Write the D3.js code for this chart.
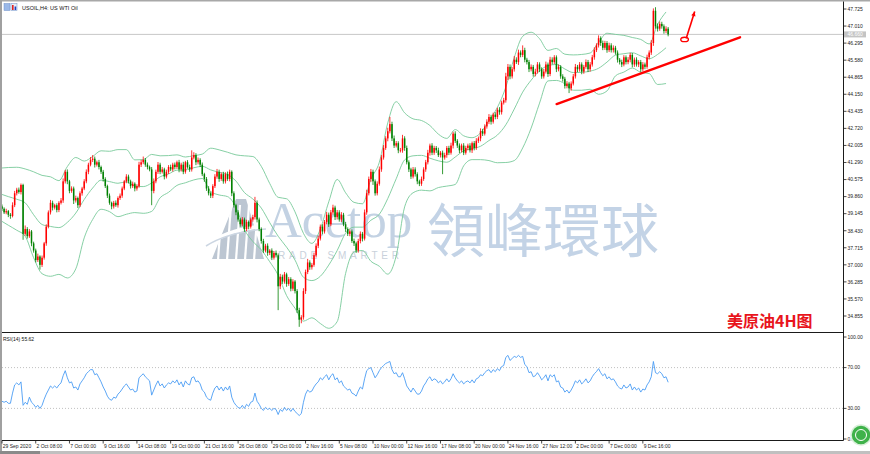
<!DOCTYPE html>
<html><head><meta charset="utf-8">
<script src="https://cdn.jsdelivr.net/npm/d3@7"></script>
<style>html,body{margin:0;padding:0;background:#fff;}svg{display:block;}</style>
</head><body>
<svg id="c" width="870" height="454"></svg>
<script>
// ---------------- DATA ----------------
const title = "USOIL,H4:  US WTI Oil";
const rsiTitle = "RSI(14) 55.62";
const chartLabel = "美原油4H图";
const firstOpen = 39.45;
const closes = [
39.35,39.2,39.25,39.1,39.05,39.5,40.0,40.15,40.05,40.35,
38.3,38.5,38.2,38.4,37.9,37.6,37.2,37.35,37.0,37.3,
37.9,38.6,39.2,39.6,39.4,39.5,39.3,39.6,39.7,40.5,
40.9,40.5,40.1,40.2,39.7,39.8,39.5,40.0,40.2,40.5,
40.9,41.2,41.4,41.45,41.2,41.3,41.1,40.9,40.6,40.3,
39.9,39.6,39.45,39.6,39.5,39.8,39.9,40.2,40.5,40.7,
40.5,40.3,40.4,40.2,40.3,41.2,41.3,41.4,41.2,41.1,
41.0,40.1,40.5,40.9,41.2,40.9,41.0,40.7,40.9,41.1,
41.0,41.2,41.1,41.3,41.0,41.2,40.9,41.3,41.1,41.0,
41.5,41.6,41.3,41.4,41.2,40.8,40.6,40.2,40.0,39.9,
40.3,40.7,40.9,40.6,40.8,40.5,40.8,40.6,40.9,40.0,
39.5,39.2,38.9,38.7,38.9,38.5,38.8,38.6,38.9,39.0,
39.6,38.9,38.5,38.0,37.6,37.8,37.5,37.6,37.3,37.5,
37.4,36.1,36.5,36.3,36.6,36.2,36.4,36.0,36.3,35.9,
35.1,34.7,34.8,35.9,36.7,37.1,36.9,37.0,37.4,37.8,
38.1,38.6,38.4,38.8,39.1,38.7,39.2,39.4,39.0,39.2,
38.9,39.1,38.7,38.5,38.3,38.4,38.0,37.9,37.6,38.0,
38.3,38.1,39.2,40.0,40.6,40.9,40.5,40.0,40.4,41.0,
41.5,41.9,42.3,42.6,42.9,42.3,42.0,42.1,41.8,41.8,
42.3,41.9,41.3,41.0,40.7,41.0,40.8,40.5,40.4,40.6,
41.0,41.3,41.7,42.0,41.7,41.9,41.8,41.6,41.7,41.5,
41.6,41.9,41.7,42.0,42.5,42.2,42.0,41.8,42.0,41.7,
41.9,42.0,41.8,42.1,41.9,42.2,42.3,42.6,42.5,42.8,
43.0,43.2,43.0,43.3,43.2,43.5,43.4,43.8,43.9,44.9,
45.3,44.9,45.2,45.6,45.5,45.9,45.8,46.0,45.6,45.5,
45.2,45.3,45.0,45.1,45.4,45.2,44.9,45.1,45.4,45.0,
45.6,45.5,45.7,45.2,45.3,44.9,44.8,44.5,44.6,44.4,
44.6,44.9,45.3,45.2,45.4,45.1,45.3,45.5,45.2,45.4,
45.7,46.0,46.2,46.5,46.3,46.1,46.3,46.0,46.2,46.0,
46.1,45.9,45.6,45.5,45.4,45.7,45.5,45.6,45.8,45.4,
45.6,45.4,45.5,45.2,45.4,45.3,45.7,45.9,46.3,47.65,
47.0,46.9,47.1,47.0,46.8,46.9,46.66];
// wick lengths in cents (above the body / below the body)
const upperWickCents = [
8,6,10,5,7,12,10,8,9,6, 5,15,8,10,6,7,8,12,5,9, 6,10,8,12,9,6,8,7,10,12,
8,10,6,9,8,10,6,8,7,9, 10,8,12,15,9,7,10,6,8,7, 6,9,5,8,10,7,9,8,6,10,
8,7,9,6,8,12,10,14,8,9, 6,10,12,9,11,8,10,7,9,8, 10,8,9,7,10,8,12,6,9,10,
30,12,8,10,7,9,6,8,10,7, 8,10,12,9,7,10,8,11,9,6, 8,6,9,7,10,8,9,6,8,10,
25,10,8,7,9,8,10,6,9,8, 10,8,12,9,10,7,9,8,10,6, 8,10,9,12,10,15,9,8,11,10,
12,9,10,8,12,9,10,12,8,10, 9,11,8,10,7,9,8,10,7,9, 10,8,12,15,10,12,9,8,10,12,
10,12,9,15,30,10,12,9,8,10, 15,9,10,8,7,10,9,8,7,10, 9,10,12,8,10,9,8,11,7,9,
10,8,9,12,8,10,7,9,8,10, 9,8,10,7,9,11,8,12,10,9, 10,12,9,8,10,9,11,8,10,15,
12,10,9,15,10,12,9,20,10,8, 9,10,8,12,10,9,8,11,12,8, 12,10,9,8,10,7,9,8,10,7,
9,10,12,8,10,9,8,11,9,10, 10,12,9,12,8,10,9,8,11,9, 10,8,9,7,10,9,8,11,9,8,
9,10,8,9,10,8,11,9,12,10, 15,12,10,9,8,10,7];
const lowerWickCents = [
9,7,8,10,12,6,8,9,7,10, 25,8,10,7,12,9,10,8,20,9, 8,10,7,9,12,8,10,9,7,10,
9,12,10,8,15,9,12,8,10,7, 8,10,7,9,12,8,10,9,11,8, 10,8,12,9,7,10,8,9,7,8,
9,10,8,12,9,7,10,8,9,10, 8,60,10,8,9,10,7,12,8,9, 7,9,10,8,12,9,10,8,7,10,
9,8,12,9,10,8,12,10,9,10, 10,8,9,12,8,10,9,8,10,12, 10,12,9,10,8,12,9,11,8,9,
10,12,9,11,10,8,12,9,10,8, 9,100,12,10,9,12,8,11,9,10, 12,30,15,10,12,9,11,10,8,9,
10,8,12,9,10,11,8,9,12,10, 9,10,8,12,9,10,8,11,10,9, 10,12,8,10,9,12,15,10,9,8,
10,9,8,12,9,11,10,8,12,9, 10,12,9,11,10,8,10,12,10,9, 8,10,9,12,10,9,11,8,10,70,
9,11,10,8,12,9,10,12,9,10, 8,10,9,11,10,8,9,12,10,8, 9,10,12,8,10,9,11,10,8,10,
15,12,9,10,8,12,10,9,11,10, 12,9,11,10,8,12,10,9,8,12, 9,10,8,12,9,10,12,11,10,20,
10,8,9,12,10,11,9,8,12,10, 9,10,8,9,12,10,9,11,8,10, 10,9,12,10,11,8,10,9,11,12,
10,9,11,12,9,10,8,9,10,12, 10,12,9,10,11,9,8];
const rsiValues = [
37,36,37,35,35,45,53,55,53,56, 33,36,34,41,36,34,31,33,30,33,
39,44,48,52,50,52,50,53,55,62, 67,60,55,56,50,51,48,54,57,60,
64,66,68,68,63,64,60,56,51,47, 42,39,38,41,40,44,46,49,52,54,
51,48,49,46,47,60,62,64,61,59, 57,43,48,53,57,52,54,50,53,55,
54,57,55,58,53,56,51,57,54,53, 60,61,56,57,54,48,46,41,39,38,
45,50,52,48,51,47,51,48,52,41, 36,33,31,30,33,30,34,32,36,37,
45,37,34,30,28,31,29,30,28,30, 29,24,29,27,31,28,30,27,30,27,
25,23,25,36,44,48,46,47,51,54, 56,60,58,61,63,58,62,64,58,60,
55,57,52,50,48,49,45,44,42,47, 51,49,59,67,69,70,65,60,63,67,
70,72,74,75,76,68,64,65,61,61, 65,59,52,49,46,50,47,44,44,47,
52,55,59,61,57,59,58,55,57,54, 56,59,56,59,64,60,57,55,57,54,
56,57,55,58,55,59,60,63,62,65, 67,68,65,68,66,69,67,71,72,80,
82,77,79,81,80,82,80,81,73,71, 65,66,61,62,65,62,58,60,63,57,
63,61,63,56,57,51,50,46,48,45, 48,52,57,55,58,54,56,59,55,57,
61,64,66,69,65,62,64,59,61,58, 59,56,52,50,49,53,50,51,54,48,
51,48,50,46,49,48,53,56,61,76, 65,64,66,64,60,61,55.6];
// Bollinger(20,2), first point at bar 0 then every 4 bars from bar 3
const bbUpper = [41.06,41.08,41.09,41.02,40.9,40.75,40.69,40.53,41.12,41.5,41.35,41.54,41.78,41.76,41.83,41.83,41.40,41.41,41.63,41.57,
41.58,41.61,41.52,41.58,41.64,41.89,41.82,41.72,41.61,41.57,41.54,41.13,40.41,39.83,39.77,39.22,38.32,37.9,38.5,39.64,
40.58,40.02,39.62,39.56,40.59,41.3,42.95,43.84,43.37,43.12,43.05,42.84,42.48,42.3,42.67,42.41,42.33,42.53,43.05,43.6,
44.45,45.69,46.58,46.75,46.48,45.99,46.07,45.83,45.8,45.82,45.88,46.33,46.71,46.66,46.62,46.53,46.45,46.26,47.08,47.6];
const bbMiddle = [39.95,39.86,39.75,39.6,39.1,38.69,38.61,38.56,38.78,39.17,39.74,40.22,40.55,40.49,40.42,40.48,40.30,40.28,40.43,40.69,
40.81,40.97,40.98,41.07,41.13,40.98,40.88,40.79,40.51,40.03,39.76,39.38,38.77,38.2,37.74,37.2,36.48,36.34,36.52,36.99,
37.6,38.33,38.58,38.58,38.87,39.12,39.78,40.61,41.4,41.57,41.59,41.47,41.36,41.3,41.52,41.78,41.87,41.97,42.21,42.44,
42.87,43.53,44.24,44.74,45.13,45.35,45.4,45.21,45.06,45.07,45.12,45.24,45.5,45.79,45.85,45.89,45.76,45.64,45.82,46.1];
const bbLower = [38.82,38.66,38.45,38.2,37.3,36.63,36.52,36.60,36.45,36.83,38.13,38.9,39.33,39.23,39.02,39.12,39.19,39.16,39.24,39.81,
40.04,40.33,40.44,40.56,40.62,40.07,39.93,39.86,39.41,38.48,37.98,37.63,37.13,36.57,35.71,35.18,34.64,34.78,34.54,34.34,
34.62,36.64,37.54,37.6,37.15,36.94,36.61,37.38,39.43,40.02,40.13,40.1,40.24,40.3,40.37,41.15,41.41,41.41,41.37,41.28,
41.29,41.37,41.9,42.73,43.78,44.71,44.73,44.59,44.32,44.32,44.36,44.15,44.29,44.92,45.08,45.25,45.07,45.02,44.56,44.6];
const priceTicks = [47.725,47.010,46.295,45.580,44.865,44.150,43.435,42.720,42.005,41.290,40.575,39.860,39.145,38.430,37.715,37.000,36.285,35.570,34.855];
const rsiTicks = [100,70,30,0];
const rsiLevels = [70,30];
const timeLabels = ["29 Sep 2020","2 Oct 08:00","7 Oct 00:00","9 Oct 16:00","14 Oct 08:00","19 Oct 00:00","21 Oct 16:00","26 Oct 08:00","29 Oct 00:00","2 Nov 16:00","5 Nov 08:00","10 Nov 00:00","12 Nov 16:00","17 Nov 08:00","20 Nov 00:00","24 Nov 16:00","27 Nov 12:00","2 Dec 00:00","7 Dec 00:00","9 Dec 16:00"];
const barsPerTimeLabel = 16;
// hand-drawn annotations (bar index, price)
const trendLine = [{bar:263.1, price:43.74},{bar:350.1, price:46.54}];
const arrowLine = [{bar:324.6, price:46.50},{bar:328.6, price:47.62}];
const arrowLoop = {bar:323.8, price:46.45};

// ---------------- SCALES ----------------
const svg = d3.select('#c');
const PL=2, PR=843, MT=2, MB=332, RB=440;
const x = d3.scaleLinear().domain([0,398]).range([2,841]);
const y = d3.scaleLinear().domain([34.855,47.725]).range([316,9]);
const yr = d3.scaleLinear().domain([0,100]).range([439,337]);

svg.append('rect').attr('width',870).attr('height',454).attr('fill','#fff');
const defs = svg.append('defs');
defs.append('clipPath').attr('id','mainClip').append('rect').attr('x',PL).attr('y',MT).attr('width',PR-PL).attr('height',MB-MT);
defs.append('clipPath').attr('id','rsiClip').append('rect').attr('x',PL).attr('y',MB+1).attr('width',PR-PL).attr('height',RB-MB-1);

// ---------------- WATERMARK ----------------
const wm = svg.append('g').attr('pointer-events','none');
wm.append('path').attr('d','M212,259 L236,199 L246,199 L264,259 Z').attr('fill','#bcc6d2');
[222,231,240,249,258].forEach(v=>wm.append('line').attr('x1',v).attr('x2',v-4).attr('y1',205).attr('y2',260).attr('stroke','#fff').attr('stroke-width',2.2));
wm.append('path').attr('d','M206,246 Q228,229 266,226').attr('fill','none').attr('stroke','#fff').attr('stroke-width',4);
wm.append('path').attr('d','M206,246 Q228,232 266,229').attr('fill','none').attr('stroke','#ccd6e2').attr('stroke-width',1.5);
wm.append('text').attr('x',265).attr('y',237).attr('font-family','"Liberation Serif","DejaVu Serif",serif').attr('font-size',51).attr('fill','#c3d2e3').text('Acetop');
wm.append('text').attr('x',268).attr('y',259).attr('font-family','"Liberation Sans",Arial,sans-serif').attr('font-size',10).attr('letter-spacing',3.8).attr('fill','#c9d1db').text('TRADE SMARTER');
wm.append('text').attr('x',427).attr('y',252).attr('font-family','"Noto Sans CJK TC","Noto Sans CJK SC",sans-serif').attr('font-size',58).attr('fill','#c3d3e6').text('領峰環球');

// ---------------- MAIN PANEL ----------------
const main = svg.append('g').attr('clip-path','url(#mainClip)');
const lastClose = closes[closes.length-1];
main.append('line').attr('x1',PL).attr('x2',PR).attr('y1',y(lastClose)).attr('y2',y(lastClose)).attr('stroke','#c8c8c8').attr('stroke-width',1);

const bandBar = k => k===0 ? 0 : 4*k-1;
const bandLine = d3.line().x((d,k)=>x(bandBar(k))).y(d=>y(d)).curve(d3.curveMonotoneX);
[bbUpper,bbMiddle,bbLower].forEach(arr=>{
  main.append('path').attr('d',bandLine(arr)).attr('fill','none').attr('stroke','#78c99a').attr('stroke-width',0.9);
});

const candles = closes.map((c,i)=>{
  const o = i===0 ? firstOpen : closes[i-1];
  return {i,o,c,h:Math.max(o,c)+upperWickCents[i]/100,l:Math.min(o,c)-lowerWickCents[i]/100};
});
const cg = main.append('g');
candles.forEach(d=>{
  const col = d.c>=d.o ? '#ff0000' : '#008000';
  const cx = x(d.i);
  cg.append('line').attr('x1',cx).attr('x2',cx).attr('y1',y(d.h)).attr('y2',y(d.l)).attr('stroke',col).attr('stroke-width',0.8);
  const top = y(Math.max(d.o,d.c)), bot = y(Math.min(d.o,d.c));
  cg.append('rect').attr('x',cx-0.75).attr('y',top).attr('width',1.5).attr('height',Math.max(0.8,bot-top)).attr('fill',col);
});

// annotations
main.append('line').attr('x1',x(trendLine[0].bar)).attr('y1',y(trendLine[0].price)).attr('x2',x(trendLine[1].bar)).attr('y2',y(trendLine[1].price)).attr('stroke','#ff0000').attr('stroke-width',2.4).attr('stroke-linecap','round');
main.append('ellipse').attr('cx',x(arrowLoop.bar)).attr('cy',y(arrowLoop.price)).attr('rx',3.8).attr('ry',2.2).attr('fill','none').attr('stroke','#ff0000').attr('stroke-width',1.4);
{
  const x1=x(arrowLine[0].bar), y1=y(arrowLine[0].price), x2=x(arrowLine[1].bar), y2=y(arrowLine[1].price);
  main.append('line').attr('x1',x1).attr('y1',y1).attr('x2',x2).attr('y2',y2).attr('stroke','#ff0000').attr('stroke-width',1.6);
  const ang = Math.atan2(y2-y1,x2-x1), L=5, s=0.45;
  const p1=[x2-L*Math.cos(ang-s), y2-L*Math.sin(ang-s)], p2=[x2-L*Math.cos(ang+s), y2-L*Math.sin(ang+s)];
  main.append('path').attr('d',`M${x2},${y2}L${p1[0]},${p1[1]}L${p2[0]},${p2[1]}Z`).attr('fill','#ff0000');
}

// ---------------- RSI PANEL ----------------
const rsiG = svg.append('g').attr('clip-path','url(#rsiClip)');
rsiLevels.forEach(v=>rsiG.append('line').attr('x1',PL).attr('x2',PR).attr('y1',yr(v)).attr('y2',yr(v)).attr('stroke','#b0b0b0').attr('stroke-width',0.8).attr('stroke-dasharray','1,2'));
rsiG.append('path').attr('d',d3.line().x((d,i)=>x(i)).y(d=>yr(d))(rsiValues)).attr('fill','none').attr('stroke','#4a9cf4').attr('stroke-width',0.9);

// ---------------- FRAME & AXES ----------------
const ink='#1a1a1a';
svg.append('rect').attr('x',0).attr('y',0).attr('width',870).attr('height',1.5).attr('fill','#a8a8a8');
svg.append('rect').attr('x',0).attr('y',0).attr('width',2).attr('height',454).attr('fill','#a0a0a0');
svg.append('line').attr('x1',PR+0.5).attr('x2',PR+0.5).attr('y1',1.5).attr('y2',RB+0.5).attr('stroke',ink).attr('stroke-width',1);
svg.append('line').attr('x1',PL).attr('x2',PR+0.5).attr('y1',MB+0.5).attr('y2',MB+0.5).attr('stroke',ink).attr('stroke-width',1);
svg.append('line').attr('x1',PL).attr('x2',PR+0.5).attr('y1',RB+0.5).attr('y2',RB+0.5).attr('stroke',ink).attr('stroke-width',1);

const fontSmall = '"Liberation Sans",Arial,sans-serif';
const axR = svg.append('g');
priceTicks.forEach(v=>{
  axR.append('line').attr('x1',PR+0.5).attr('x2',PR+3.5).attr('y1',y(v)).attr('y2',y(v)).attr('stroke',ink).attr('stroke-width',0.8);
  axR.append('text').attr('x',PR+4.5).attr('y',y(v)+1.8).attr('font-family',fontSmall).attr('font-size',5).attr('fill','#222').text(d3.format('.3f')(v));
});
rsiTicks.forEach(v=>{
  axR.append('line').attr('x1',PR+0.5).attr('x2',PR+3.5).attr('y1',yr(v)).attr('y2',yr(v)).attr('stroke',ink).attr('stroke-width',0.8);
  axR.append('text').attr('x',PR+4.5).attr('y',yr(v)+1.8).attr('font-family',fontSmall).attr('font-size',5).attr('fill','#222').text(d3.format('.2f')(v));
});
// current price box
axR.append('rect').attr('x',PR+1).attr('y',y(lastClose)-3).attr('width',22).attr('height',6).attr('fill','#c4c4c4');
axR.append('text').attr('x',PR+4.5).attr('y',y(lastClose)+1.8).attr('font-family',fontSmall).attr('font-size',5).attr('fill','#fff').text(d3.format('.3f')(lastClose));

const axB = svg.append('g');
timeLabels.forEach((t,k)=>{
  const bx = x(k*barsPerTimeLabel);
  axB.append('line').attr('x1',bx).attr('x2',bx).attr('y1',RB+0.5).attr('y2',RB+3.5).attr('stroke',ink).attr('stroke-width',0.8);
  axB.append('text').attr('x',bx+0.8).attr('y',RB+7.6).attr('font-family',fontSmall).attr('font-size',5).attr('fill','#222').text(t);
});

// bottom window strip
svg.append('rect').attr('x',0).attr('y',451).attr('width',870).attr('height',3).attr('fill','#c0c0c0');
svg.append('rect').attr('x',0).attr('y',451).attr('width',40).attr('height',3).attr('fill','#8a8a8a');

// headers
svg.append('rect').attr('x',4).attr('y',3.5).attr('width',6).attr('height',7).attr('fill','#9ab8e8').attr('stroke','#6d8fc9').attr('stroke-width',0.5);
svg.append('rect').attr('x',11).attr('y',3.5).attr('width',6).attr('height',7).attr('fill','#e8eef8').attr('stroke','#6d8fc9').attr('stroke-width',0.5);
svg.append('rect').attr('x',12).attr('y',5).attr('width',1.6).attr('height',5).attr('fill','#e02020');
svg.append('rect').attr('x',14.6).attr('y',6.5).attr('width',1.6).attr('height',3.5).attr('fill','#2040c0');
svg.append('text').attr('x',22).attr('y',9.5).attr('font-family',fontSmall).attr('font-size',5.5).attr('fill','#111').text(title);
svg.append('text').attr('x',3).attr('y',340.5).attr('font-family',fontSmall).attr('font-size',5).attr('fill','#111').text(rsiTitle);

// red chart label
svg.append('text').attr('x',727).attr('y',327).attr('font-family','"Noto Sans CJK SC",sans-serif').attr('font-weight',700).attr('font-size',16).attr('fill','#e8141c').text(chartLabel);

// corner icon
svg.append('circle').attr('cx',861).attr('cy',435).attr('r',10).attr('fill','#3fb24a').attr('stroke','#d8efd9').attr('stroke-width',1.5);
svg.append('circle').attr('cx',861).attr('cy',435).attr('r',5.5).attr('fill','none').attr('stroke','#ffffff').attr('stroke-width',1);
</script>
</body></html>
